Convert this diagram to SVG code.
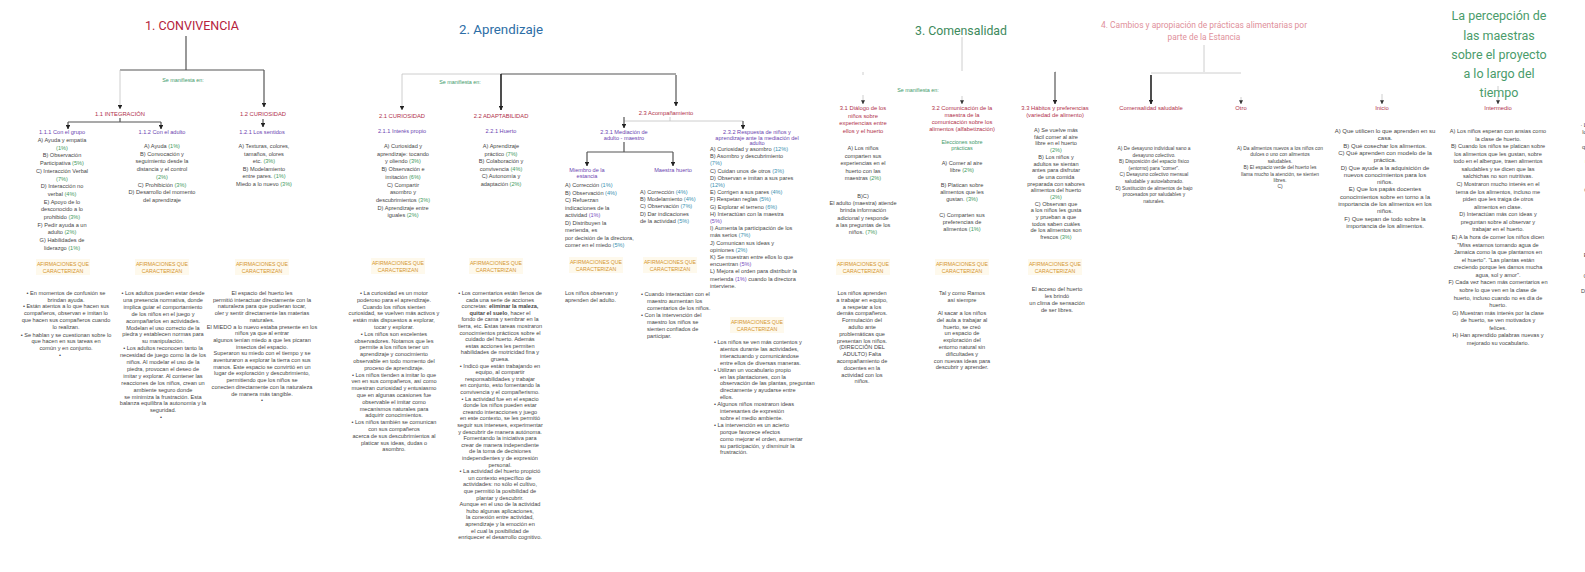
<svg xmlns="http://www.w3.org/2000/svg" width="1585" height="572" viewBox="0 0 1585 572">
<defs>
<marker id="ah" viewBox="0 0 6 6" refX="5.5" refY="3" markerWidth="4.5" markerHeight="4.5" markerUnits="userSpaceOnUse" orient="auto"><path d="M0,0 L6,3 L0,6 z" fill="#222"/></marker>
<marker id="ahl" viewBox="0 0 6 6" refX="5.5" refY="3" markerWidth="4" markerHeight="4" markerUnits="userSpaceOnUse" orient="auto"><path d="M0,0 L6,3 L0,6 z" fill="#333"/></marker>
</defs>
<style>
text{font-family:"Liberation Sans",Arial,sans-serif}
.ti{font-family:Roboto,"Liberation Sans",Arial,sans-serif;text-anchor:middle}
.t{font-size:5.6px;fill:#464646}
.s{font-size:4.9px}
.m{font-size:6px}
.c{text-anchor:middle}
.pc{fill:#3f9a5e}
.pb{fill:#3a8fb0}
.pp{fill:#7a4fc0}
.cat{font-size:5.8px;fill:#b0304a;text-anchor:middle}
.sub{font-size:5.6px;fill:#6b3fb0;text-anchor:middle}
.af{font-size:5.2px;fill:#d4952e;text-anchor:middle}
.afbg{fill:#fef9ec}
.sm{font-size:5.4px;fill:#3f9a6a;text-anchor:middle}
.ln{fill:none;stroke:#555;stroke-width:1.2}
.lt{fill:none;stroke:#c2c2c2;stroke-width:0.8}
.lk{fill:none;stroke:#222;stroke-width:1.6}
</style>
<rect width="1585" height="572" fill="#ffffff"/>

<!-- connectors -->
<g id="connectors">
  <!-- 1. Convivencia -->
  <path class="ln" d="M186,36 V70 M120,70 H264"/>
  <path class="lt" d="M120,70 V109" marker-end="url(#ah)"/>
  <path class="ln" d="M264,70 V107" stroke-width="0.9" marker-end="url(#ah)"/>
  <path class="ln" d="M120,118 V122 M68,122 H161"/>
  <path class="ln" d="M68,122 V129" marker-end="url(#ah)"/>
  <path class="ln" d="M161,122 V129" marker-end="url(#ah)"/>
  <path class="ln" d="M263,119 V127" stroke-width="0.9" marker-end="url(#ah)"/>
  <!-- 2. Aprendizaje -->
  <path class="lt" d="M402,74 H501"/>
  <path class="ln" d="M501,74 H676" stroke-width="1"/>
  <path class="lt" d="M402,74 V110" marker-end="url(#ah)"/>
  <path class="lk" d="M501,74 V110" marker-end="url(#ah)"/>
  <path class="ln" d="M676,75 V106" stroke-width="0.9" marker-end="url(#ah)"/>
  <path class="lt" d="M670,117 V121 M624,121 H743"/>
  <path class="ln" d="M624,117 V128" stroke-width="0.9" marker-end="url(#ah)"/>
  <path class="ln" d="M743,121 V129" stroke-width="0.9" marker-end="url(#ah)"/>
  <path class="ln" d="M624,142 V152 M587,152 H673" stroke-width="1"/>
  <path class="ln" d="M587,152 V166" marker-end="url(#ah)"/>
  <path class="ln" d="M673,152 V166" marker-end="url(#ah)"/>
  <!-- 3. Comensalidad -->
  <path class="lt" d="M962,37 V71"/>
  <path class="lt" d="M863,72 V75 M1055,72 H1056" stroke="#e2e2e2"/>
  <path class="lt" d="M863,95 V104" marker-end="url(#ahl)"/>
  <path class="lt" d="M962,96 V104" marker-end="url(#ahl)"/>
  <path class="ln" d="M1055,72 V104" stroke="#999" stroke-width="0.9" marker-end="url(#ah)"/>
  <!-- 4. Cambios -->
  <path class="lt" d="M1204,45 V72"/>
  <path class="lt" d="M1151,73 H1241" stroke="#ececec"/>
  <path class="lk" d="M1151,75 V104" marker-end="url(#ah)"/>
  <path class="lt" d="M1241,97 V104" marker-end="url(#ahl)"/>
  <!-- Percepción -->
  <path class="lt" d="M1498,86 V91"/>
  <path class="lt" d="M1382,94 V104" marker-end="url(#ahl)"/>
  <path class="lt" d="M1498,96 V104" marker-end="url(#ahl)"/>
</g>

<!-- 1. CONVIVENCIA -->
<g id="convivencia">
  <text class="ti" x="192" y="30" font-size="13.5" fill="#b5223c" textLength="94" lengthAdjust="spacingAndGlyphs">1. CONVIVENCIA</text>
  <text class="sm" x="183" y="82">Se manifiesta en:</text>
  <text class="cat" x="120" y="116">1.1 INTEGRACIÓN</text>
  <text class="cat" x="263" y="116">1.2 CURIOSIDAD</text>
</g>

<g id="n111">
  <text class="sub" x="62" y="134">1.1.1 Con el grupo</text>
  <text class="t c"><tspan x="62" y="142">A) Ayuda y empatía</tspan><tspan x="62" dy="7.7" class="pc">(1%)</tspan><tspan x="62" dy="7.7">B) Observación</tspan><tspan x="62" dy="7.7">Participativa <tspan class="pc">(5%)</tspan></tspan><tspan x="62" dy="7.7">C) Interacción Verbal</tspan><tspan x="62" dy="7.7" class="pc">(7%)</tspan><tspan x="62" dy="7.7">D) Interacción no</tspan><tspan x="62" dy="7.7">verbal <tspan class="pc">(4%)</tspan></tspan><tspan x="62" dy="7.7">E) Apoyo de lo</tspan><tspan x="62" dy="7.7">desconocido a lo</tspan><tspan x="62" dy="7.7">prohibido <tspan class="pc">(3%)</tspan></tspan><tspan x="62" dy="7.7">F) Pedir ayuda a un</tspan><tspan x="62" dy="7.7">adulto <tspan class="pc">(2%)</tspan></tspan><tspan x="62" dy="7.7">G) Habilidades de</tspan><tspan x="62" dy="7.7">liderazgo <tspan class="pc">(1%)</tspan></tspan></text>
  <rect class="afbg" x="36" y="259" width="54" height="16"/>
  <text class="af"><tspan x="63" y="266">AFIRMACIONES QUE</tspan><tspan x="63" y="273">CARACTERIZAN</tspan></text>
  <text class="t c"><tspan x="66" y="295">• En momentos de confusión se</tspan><tspan x="66" dy="6.7">brindan ayuda.</tspan><tspan x="66" dy="6.7">• Están atentos a lo que hacen sus</tspan><tspan x="66" dy="6.7">compañeros, observan e imitan lo</tspan><tspan x="66" dy="6.7">que hacen sus compañeros cuando</tspan><tspan x="66" dy="6.7">lo realizan.</tspan><tspan x="66" dy="8">• Se hablan y se cuestionan sobre lo</tspan><tspan x="66" dy="6.7">que hacen en sus tareas en</tspan><tspan x="66" dy="6.7">común y en conjunto.</tspan><tspan x="60" dy="6.9">•</tspan></text>
</g>

<g id="n112">
  <text class="sub" x="162" y="134">1.1.2 Con el adulto</text>
  <text class="t c"><tspan x="162" y="148">A) Ayuda <tspan class="pc">(1%)</tspan></tspan><tspan x="162" dy="7.7">B) Convocación y</tspan><tspan x="162" dy="7.7">seguimiento desde la</tspan><tspan x="162" dy="7.7">distancia y el control</tspan><tspan x="162" dy="7.7" class="pc">(2%)</tspan><tspan x="162" dy="7.7">C) Prohibición <tspan class="pc">(3%)</tspan></tspan><tspan x="162" dy="7.7">D) Desarrollo del momento</tspan><tspan x="162" dy="7.7">del aprendizaje</tspan></text>
  <rect class="afbg" x="135" y="259" width="54" height="16"/>
  <text class="af"><tspan x="162" y="266">AFIRMACIONES QUE</tspan><tspan x="162" y="273">CARACTERIZAN</tspan></text>
  <text class="t c"><tspan x="163" y="295">• Los adultos pueden estar desde</tspan><tspan x="163" dy="6.9">una presencia normativa, donde</tspan><tspan x="163" dy="6.9">implica guiar el comportamiento</tspan><tspan x="163" dy="6.9">de los niños en el juego y</tspan><tspan x="163" dy="6.9">acompañarlos en actividades.</tspan><tspan x="163" dy="6.9">Modelan el uso correcto de la</tspan><tspan x="163" dy="6.9">piedra y establecen normas para</tspan><tspan x="163" dy="6.9">su manipulación.</tspan><tspan x="163" dy="6.9">• Los adultos reconocen tanto la</tspan><tspan x="163" dy="6.9">necesidad de juego como la de los</tspan><tspan x="163" dy="6.9">niños. Al modelar el uso de la</tspan><tspan x="163" dy="6.9">piedra, provocan el deseo de</tspan><tspan x="163" dy="6.9">imitar y explorar. Al contener las</tspan><tspan x="163" dy="6.9">reacciones de los niños, crean un</tspan><tspan x="163" dy="6.9">ambiente seguro donde</tspan><tspan x="163" dy="6.9">se minimiza la frustración. Esta</tspan><tspan x="163" dy="6.9">balanza equilibra la autonomía y la</tspan><tspan x="163" dy="6.9">seguridad.</tspan><tspan x="161" dy="6.9">•</tspan></text>
</g>

<g id="n121">
  <text class="sub" x="262" y="134">1.2.1 Los sentidos</text>
  <text class="t c"><tspan x="264" y="148">A) Texturas, colores,</tspan><tspan x="264" dy="7.6">tamaños, olores</tspan><tspan x="264" dy="7.6">etc. <tspan class="pc">(3%)</tspan></tspan><tspan x="264" dy="7.6">B) Modelamiento</tspan><tspan x="264" dy="7.6">entre pares. <tspan class="pc">(1%)</tspan></tspan><tspan x="264" dy="7.6">Miedo a lo nuevo <tspan class="pc">(3%)</tspan></tspan></text>
  <rect class="afbg" x="235" y="259" width="54" height="16"/>
  <text class="af"><tspan x="262" y="266">AFIRMACIONES QUE</tspan><tspan x="262" y="273">CARACTERIZAN</tspan></text>
  <text class="t c"><tspan x="262" y="295">El espacio del huerto les</tspan><tspan x="262" dy="6.7">permitió interactuar directamente con la</tspan><tspan x="262" dy="6.7">naturaleza para que pudieran tocar,</tspan><tspan x="262" dy="6.7">oler y sentir directamente las materias</tspan><tspan x="262" dy="6.7">naturales.</tspan><tspan x="262" dy="6.7">El MIEDO a lo nuevo estaba presente en los</tspan><tspan x="262" dy="6.7">niños ya que al entrar</tspan><tspan x="262" dy="6.7">algunos tenían miedo a que les picaran</tspan><tspan x="262" dy="6.7">insectos del espacio.</tspan><tspan x="262" dy="6.7">Superaron su miedo con el tiempo y se</tspan><tspan x="262" dy="6.7">aventuraron a explorar la tierra con sus</tspan><tspan x="262" dy="6.7">manos. Este espacio se convirtió en un</tspan><tspan x="262" dy="6.7">lugar de exploración y descubrimiento,</tspan><tspan x="262" dy="6.7">permitiendo que los niños se</tspan><tspan x="262" dy="6.7">conecten directamente con la naturaleza</tspan><tspan x="262" dy="6.7">de manera más tangible.</tspan><tspan x="262" dy="6.7">•</tspan></text>
</g>

<!-- 2. APRENDIZAJE -->
<g id="aprendizaje">
  <text class="ti" x="501" y="34" font-size="13.5" fill="#2d6ea6" textLength="84" lengthAdjust="spacingAndGlyphs">2. Aprendizaje</text>
  <text class="sm" x="460" y="84">Se manifiesta en:</text>
</g>

<g id="n21">
  <text class="cat" x="402" y="118">2.1 CURIOSIDAD</text>
  <text class="sub" x="402" y="133">2.1.1 Interés propio</text>
  <text class="t c"><tspan x="403" y="148">A) Curiosidad y</tspan><tspan x="403" dy="7.7">aprendizaje: tocando</tspan><tspan x="403" dy="7.7">y oliendo <tspan class="pc">(3%)</tspan></tspan><tspan x="403" dy="7.7">B) Observación e</tspan><tspan x="403" dy="7.7">imitación <tspan class="pc">(6%)</tspan></tspan><tspan x="403" dy="7.7">C) Compartir</tspan><tspan x="403" dy="7.7">asombro y</tspan><tspan x="403" dy="7.7">descubrimientos <tspan class="pc">(3%)</tspan></tspan><tspan x="403" dy="7.7">D) Aprendizaje entre</tspan><tspan x="403" dy="7.7">iguales <tspan class="pc">(2%)</tspan></tspan></text>
  <rect class="afbg" x="371" y="258" width="54" height="16"/>
  <text class="af"><tspan x="398" y="265">AFIRMACIONES QUE</tspan><tspan x="398" y="272">CARACTERIZAN</tspan></text>
  <text class="t c"><tspan x="394" y="295">• La curiosidad es un motor</tspan><tspan x="394" dy="6.8">poderoso para el aprendizaje.</tspan><tspan x="394" dy="6.8">Cuando los niños sienten</tspan><tspan x="394" dy="6.8">curiosidad, se vuelven más activos y</tspan><tspan x="394" dy="6.8">están más dispuestos a explorar,</tspan><tspan x="394" dy="6.8">tocar y explorar.</tspan><tspan x="394" dy="6.8">• Los niños son excelentes</tspan><tspan x="394" dy="6.8">observadores. Notamos que les</tspan><tspan x="394" dy="6.8">permite a los niños tener un</tspan><tspan x="394" dy="6.8">aprendizaje y conocimiento</tspan><tspan x="394" dy="6.8">observable en todo momento del</tspan><tspan x="394" dy="6.8">proceso de aprendizaje.</tspan><tspan x="394" dy="6.8">• Los niños tienden a imitar lo que</tspan><tspan x="394" dy="6.8">ven en sus compañeros, así como</tspan><tspan x="394" dy="6.8">muestran curiosidad y entusiasmo</tspan><tspan x="394" dy="6.8">que en algunas ocasiones fue</tspan><tspan x="394" dy="6.8">observable el imitar como</tspan><tspan x="394" dy="6.8">mecanismos naturales para</tspan><tspan x="394" dy="6.8">adquirir conocimientos.</tspan><tspan x="394" dy="6.8">• Los niños también se comunican</tspan><tspan x="394" dy="6.8">con sus compañeros</tspan><tspan x="394" dy="6.8">acerca de sus descubrimientos al</tspan><tspan x="394" dy="6.8">platicar sus ideas, dudas o</tspan><tspan x="394" dy="6.8">asombro.</tspan></text>
</g>

<g id="n22">
  <text class="cat" x="501" y="118">2.2 ADAPTABILIDAD</text>
  <text class="sub" x="501" y="133">2.2.1 Huerto</text>
  <text class="t c"><tspan x="501" y="148">A) Aprendizaje</tspan><tspan x="501" dy="7.6">práctico <tspan class="pc">(7%)</tspan></tspan><tspan x="501" dy="7.6">B) Colaboración y</tspan><tspan x="501" dy="7.6">convivencia <tspan class="pc">(4%)</tspan></tspan><tspan x="501" dy="7.6">C) Autonomía y</tspan><tspan x="501" dy="7.6">adaptación <tspan class="pc">(2%)</tspan></tspan></text>
  <rect class="afbg" x="469" y="258" width="54" height="16"/>
  <text class="af"><tspan x="496" y="265">AFIRMACIONES QUE</tspan><tspan x="496" y="272">CARACTERIZAN</tspan></text>
  <text class="t c"><tspan x="500" y="295">• Los comentarios están llenos de</tspan><tspan x="500" dy="6.6">cada una serie de acciones</tspan><tspan x="500" dy="6.6">concretas: <tspan font-weight="bold">eliminar la maleza,</tspan></tspan><tspan x="500" dy="6.6"><tspan font-weight="bold">quitar el suelo</tspan>, hacer el</tspan><tspan x="500" dy="6.6">fondo de cama y sembrar en la</tspan><tspan x="500" dy="6.6">tierra, etc. Estas tareas mostraron</tspan><tspan x="500" dy="6.6">conocimientos prácticos sobre el</tspan><tspan x="500" dy="6.6">cuidado del huerto. Además</tspan><tspan x="500" dy="6.6">estas acciones les permiten</tspan><tspan x="500" dy="6.6">habilidades de motricidad fina y</tspan><tspan x="500" dy="6.6">gruesa.</tspan><tspan x="500" dy="6.6">• Indicó que están trabajando en</tspan><tspan x="500" dy="6.6">equipo, al compartir</tspan><tspan x="500" dy="6.6">responsabilidades y trabajar</tspan><tspan x="500" dy="6.6">en conjunto, esto fomentando la</tspan><tspan x="500" dy="6.6">convivencia y el compañerismo.</tspan><tspan x="500" dy="6.6">• La actividad fue en el espacio</tspan><tspan x="500" dy="6.6">donde los niños pueden estar</tspan><tspan x="500" dy="6.6">creando interacciones y juego</tspan><tspan x="500" dy="6.6">en este contexto, se les permitió</tspan><tspan x="500" dy="6.6">seguir sus intereses, experimentar</tspan><tspan x="500" dy="6.6">y descubrir de manera autónoma.</tspan><tspan x="500" dy="6.6">Fomentando la iniciativa para</tspan><tspan x="500" dy="6.6">crear de manera independiente</tspan><tspan x="500" dy="6.6">de la toma de decisiones</tspan><tspan x="500" dy="6.6">independientes y de expresión</tspan><tspan x="500" dy="6.6">personal.</tspan><tspan x="500" dy="6.6">• La actividad del huerto propició</tspan><tspan x="500" dy="6.6">un contexto específico de</tspan><tspan x="500" dy="6.6">actividades: no sólo el cultivo,</tspan><tspan x="500" dy="6.6">que permitió la posibilidad de</tspan><tspan x="500" dy="6.6">plantar y descubrir.</tspan><tspan x="500" dy="6.6">Aunque en el uso de la actividad</tspan><tspan x="500" dy="6.6">hubo algunas aplicaciones,</tspan><tspan x="500" dy="6.6">la conexión entre actividad,</tspan><tspan x="500" dy="6.6">aprendizaje y la emoción en</tspan><tspan x="500" dy="6.6">el cual la posibilidad de</tspan><tspan x="500" dy="6.6">enriquecer el desarrollo cognitivo.</tspan></text>
</g>

<g id="n23">
  <text class="cat" x="666" y="115">2.3 Acompañamiento</text>
</g>

<g id="n231">
  <text class="sub"><tspan x="624" y="134">2.3.1 Mediación de</tspan><tspan x="624" y="140">adulto - maestro</tspan></text>
</g>

<g id="n231a">
  <text class="sub"><tspan x="587" y="172">Miembro de la</tspan><tspan x="587" y="178">estancia</tspan></text>
  <text class="t"><tspan x="565" y="187">A) Corrección <tspan class="pb">(1%)</tspan></tspan><tspan x="565" dy="7.5">B) Observación <tspan class="pb">(4%)</tspan></tspan><tspan x="565" dy="7.5">C) Refuerzan</tspan><tspan x="565" dy="7.5">indicaciones de la</tspan><tspan x="565" dy="7.5">actividad <tspan class="pp">(1%)</tspan></tspan><tspan x="565" dy="7.5">D) Distribuyen la</tspan><tspan x="565" dy="7.5">merienda, es</tspan><tspan x="565" dy="7.5">por decisión de la directora,</tspan><tspan x="565" dy="7.5">comer en el miedo <tspan class="pb">(5%)</tspan></tspan></text>
  <rect class="afbg" x="569" y="257" width="54" height="16"/>
  <text class="af"><tspan x="596" y="264">AFIRMACIONES QUE</tspan><tspan x="596" y="271">CARACTERIZAN</tspan></text>
  <text class="t"><tspan x="565" y="295">Los niños observan y</tspan><tspan x="565" dy="6.8">aprenden del adulto.</tspan></text>
</g>

<g id="n231b">
  <text class="sub" x="673" y="172">Maestra huerto</text>
  <text class="t"><tspan x="640" y="194">A) Corrección <tspan class="pb">(4%)</tspan></tspan><tspan x="640" dy="7.2">B) Modelamiento <tspan class="pb">(4%)</tspan></tspan><tspan x="640" dy="7.2">C) Observación <tspan class="pb">(7%)</tspan></tspan><tspan x="640" dy="7.2">D) Dar indicaciones</tspan><tspan x="640" dy="7.2">de la actividad <tspan class="pb">(5%)</tspan></tspan></text>
  <rect class="afbg" x="643" y="257" width="54" height="16"/>
  <text class="af"><tspan x="670" y="264">AFIRMACIONES QUE</tspan><tspan x="670" y="271">CARACTERIZAN</tspan></text>
  <text class="t"><tspan x="641" y="296">•  Cuando interactúan con el</tspan><tspan x="647" dy="7">maestro aumentan los</tspan><tspan x="647" dy="7">comentarios de los niños.</tspan><tspan x="641" dy="7">•  Con la intervención del</tspan><tspan x="647" dy="7">maestro los niños se</tspan><tspan x="647" dy="7">sienten confiados de</tspan><tspan x="647" dy="7">participar.</tspan></text>
</g>

<g id="n232">
  <text class="sub"><tspan x="757" y="134">2.3.2 Respuesta de niños y</tspan><tspan x="757" y="139.5">aprendizaje ante la mediación del</tspan><tspan x="757" y="145">adulto</tspan></text>
  <text class="t"><tspan x="710" y="151">A) Curiosidad y asombro <tspan class="pb">(12%)</tspan></tspan><tspan x="710" dy="7.2">B) Asombro y descubrimiento</tspan><tspan x="710" dy="7.2" class="pb">(7%)</tspan><tspan x="710" dy="7.2">C) Cuidan unos de otros <tspan class="pb">(3%)</tspan></tspan><tspan x="710" dy="7.2">D) Observan e imitan a sus pares</tspan><tspan x="710" dy="7.2" class="pb">(12%)</tspan><tspan x="710" dy="7.2">E) Corrigen a sus pares <tspan class="pb">(4%)</tspan></tspan><tspan x="710" dy="7.2">F) Respetan reglas <tspan class="pb">(5%)</tspan></tspan><tspan x="710" dy="7.2">G) Explorar el terreno <tspan class="pb">(6%)</tspan></tspan><tspan x="710" dy="7.2">H) Interactúan con la maestra</tspan><tspan x="710" dy="7.2" class="pp">(5%)</tspan><tspan x="710" dy="7.2">I) Aumenta la participación de los</tspan><tspan x="710" dy="7.2">más serios <tspan class="pb">(7%)</tspan></tspan><tspan x="710" dy="7.2">J) Comunican sus ideas y</tspan><tspan x="710" dy="7.2">opiniones <tspan class="pb">(2%)</tspan></tspan><tspan x="710" dy="7.2">K) Se muestran entre ellos lo que</tspan><tspan x="710" dy="7.2">encuentran <tspan class="pp">(5%)</tspan></tspan><tspan x="710" dy="7.2">L) Mejora el orden para distribuir la</tspan><tspan x="710" dy="7.2">merienda <tspan class="pp">(1%)</tspan> cuando la directora</tspan><tspan x="710" dy="7.2">interviene.</tspan></text>
  <rect class="afbg" x="730" y="317" width="54" height="16"/>
  <text class="af"><tspan x="757" y="324">AFIRMACIONES QUE</tspan><tspan x="757" y="331">CARACTERIZAN</tspan></text>
  <text class="t"><tspan x="714" y="344">•  Los niños se ven más contentos y</tspan><tspan x="720" dy="6.9">atentos durante las actividades,</tspan><tspan x="720" dy="6.9">interactuando y comunicándose</tspan><tspan x="720" dy="6.9">entre ellos de diversas maneras.</tspan><tspan x="714" dy="6.9">•  Utilizan un vocabulario propio</tspan><tspan x="720" dy="6.9">en las plantaciones, con la</tspan><tspan x="720" dy="6.9">observación de las plantas, preguntan</tspan><tspan x="720" dy="6.9">directamente y ayudarse entre</tspan><tspan x="720" dy="6.9">ellos.</tspan><tspan x="714" dy="6.9">•  Algunos niños mostraron ideas</tspan><tspan x="720" dy="6.9">interesantes de expresión</tspan><tspan x="720" dy="6.9">sobre el medio ambiente.</tspan><tspan x="714" dy="6.9">•  La intervención es un acierto</tspan><tspan x="720" dy="6.9">porque favorece efectos</tspan><tspan x="720" dy="6.9">como mejorar el orden, aumentar</tspan><tspan x="720" dy="6.9">su participación, y disminuir la</tspan><tspan x="720" dy="6.9">frustración.</tspan></text>
</g>

<!-- 3. COMENSALIDAD -->
<g id="comensalidad">
  <text class="ti" x="961" y="35" font-size="13.5" fill="#3e8a5c" textLength="92" lengthAdjust="spacingAndGlyphs">3. Comensalidad</text>
  <text class="sm" x="918" y="92">Se manifiesta en:</text>
</g>

<g id="n31">
  <text class="cat"><tspan x="863" y="110">3.1 Diálogo de los</tspan><tspan x="863" y="117.6">niños sobre</tspan><tspan x="863" y="125.2">experiencias entre</tspan><tspan x="863" y="132.8">ellos y el huerto</tspan></text>
  <text class="t c"><tspan x="863" y="150">A) Los niños</tspan><tspan x="863" dy="7.5">comparten sus</tspan><tspan x="863" dy="7.5">experiencias en el</tspan><tspan x="863" dy="7.5">huerto con las</tspan><tspan x="863" dy="7.5">maestras <tspan class="pc">(2%)</tspan></tspan><tspan x="863" y="198">B)C)</tspan><tspan x="863" dy="7.2">El adulto (maestra) atiende</tspan><tspan x="863" dy="7.2">brinda información</tspan><tspan x="863" dy="7.2">adicional y responde</tspan><tspan x="863" dy="7.2">a las preguntas de los</tspan><tspan x="863" dy="7.2">niños. <tspan class="pc">(7%)</tspan></tspan></text>
  <rect class="afbg" x="836" y="259" width="54" height="16"/>
  <text class="af"><tspan x="863" y="266">AFIRMACIONES QUE</tspan><tspan x="863" y="273">CARACTERIZAN</tspan></text>
  <text class="t c"><tspan x="862" y="295">Los niños aprenden</tspan><tspan x="862" dy="6.8">a trabajar en equipo,</tspan><tspan x="862" dy="6.8">a respetar a los</tspan><tspan x="862" dy="6.8">demás compañeros.</tspan><tspan x="862" dy="6.8">Formulación del</tspan><tspan x="862" dy="6.8">adulto ante</tspan><tspan x="862" dy="6.8">problemáticas que</tspan><tspan x="862" dy="6.8">presentan los niños.</tspan><tspan x="862" dy="6.8">(DIRECCIÓN DEL</tspan><tspan x="862" dy="6.8">ADULTO) Falta</tspan><tspan x="862" dy="6.8">acompañamiento de</tspan><tspan x="862" dy="6.8">docentes en la</tspan><tspan x="862" dy="6.8">actividad con los</tspan><tspan x="862" dy="6.8">niños.</tspan></text>
</g>

<g id="n32">
  <text class="cat"><tspan x="962" y="110">3.2 Comunicación de la</tspan><tspan x="962" y="117">maestra de la</tspan><tspan x="962" y="124">comunicación sobre los</tspan><tspan x="962" y="131">alimentos (alfabetización)</tspan></text>
  <text class="sm" font-size="5"><tspan x="962" y="144">Elecciones sobre</tspan><tspan x="962" y="149.5">prácticas</tspan></text>
  <text class="t c"><tspan x="962" y="165">A) Comer al aire</tspan><tspan x="962" dy="7">libre <tspan class="pc">(2%)</tspan></tspan><tspan x="962" y="187">B) Platican sobre</tspan><tspan x="962" dy="7">alimentos que les</tspan><tspan x="962" dy="7">gustan. <tspan class="pc">(3%)</tspan></tspan><tspan x="962" y="217">C) Comparten sus</tspan><tspan x="962" dy="7">preferencias de</tspan><tspan x="962" dy="7">alimentos <tspan class="pc">(1%)</tspan></tspan></text>
  <rect class="afbg" x="935" y="259" width="54" height="16"/>
  <text class="af"><tspan x="962" y="266">AFIRMACIONES QUE</tspan><tspan x="962" y="273">CARACTERIZAN</tspan></text>
  <text class="t c"><tspan x="962" y="295">Tal y como Ramos</tspan><tspan x="962" dy="6.8">así siempre</tspan><tspan x="962" y="315">Al sacar a los niños</tspan><tspan x="962" dy="6.8">del aula a trabajar al</tspan><tspan x="962" dy="6.8">huerto, se creó</tspan><tspan x="962" dy="6.8">un espacio de</tspan><tspan x="962" dy="6.8">exploración del</tspan><tspan x="962" dy="6.8">entorno natural sin</tspan><tspan x="962" dy="6.8">dificultades y</tspan><tspan x="962" dy="6.8">con nuevas ideas para</tspan><tspan x="962" dy="6.8">descubrir y aprender.</tspan></text>
</g>

<g id="n33">
  <text class="cat"><tspan x="1055" y="110">3.3 Hábitos y preferencias</tspan><tspan x="1055" y="117">(variedad de alimento)</tspan></text>
  <text class="t c"><tspan x="1056" y="132">A) Se vuelve más</tspan><tspan x="1056" dy="6.7">fácil comer al aire</tspan><tspan x="1056" dy="6.7">libre en el huerto</tspan><tspan x="1056" dy="6.7" class="pc">(2%)</tspan><tspan x="1056" dy="6.7">B) Los niños y</tspan><tspan x="1056" dy="6.7">adultos se sientan</tspan><tspan x="1056" dy="6.7">antes para disfrutar</tspan><tspan x="1056" dy="6.7">de una comida</tspan><tspan x="1056" dy="6.7">preparada con sabores</tspan><tspan x="1056" dy="6.7">alimentos del huerto</tspan><tspan x="1056" dy="6.7" class="pc">(2%)</tspan><tspan x="1056" dy="6.7">C) Observan que</tspan><tspan x="1056" dy="6.7">a los niños les gusta</tspan><tspan x="1056" dy="6.7">y prueban a que</tspan><tspan x="1056" dy="6.7">todos saben cuáles</tspan><tspan x="1056" dy="6.7">de los alimentos son</tspan><tspan x="1056" dy="6.7">frescos <tspan class="pc">(3%)</tspan></tspan></text>
  <rect class="afbg" x="1028" y="259" width="54" height="16"/>
  <text class="af"><tspan x="1055" y="266">AFIRMACIONES QUE</tspan><tspan x="1055" y="273">CARACTERIZAN</tspan></text>
  <text class="t c"><tspan x="1057" y="291">El acceso del huerto</tspan><tspan x="1057" dy="7">les brindó</tspan><tspan x="1057" dy="7">un clima de sensación</tspan><tspan x="1057" dy="7">de ser libres.</tspan></text>
</g>

<!-- 4. CAMBIOS -->
<g id="cambios">
  <text class="ti" fill="#e0909b" font-size="8.3"><tspan x="1204" y="28" textLength="206" lengthAdjust="spacingAndGlyphs">4. Cambios y apropiación de prácticas alimentarias por</tspan><tspan x="1204" y="40">parte de la Estancia</tspan></text>
</g>

<g id="n41">
  <text class="cat" x="1151" y="110">Comensalidad saludable</text>
  <text class="t s c"><tspan x="1154" y="150">A) De desayuno individual sano a</tspan><tspan x="1154" dy="6.6">desayuno colectivo.</tspan><tspan x="1154" dy="6.6">B) Disposición del espacio físico</tspan><tspan x="1154" dy="6.6">(entorno) para "comer".</tspan><tspan x="1154" dy="6.6">C) Desayuno colectivo mensual</tspan><tspan x="1154" dy="6.6">saludable y autoelaborado.</tspan><tspan x="1154" dy="6.6">D) Sustitución de alimentos de bajo</tspan><tspan x="1154" dy="6.6">procesados por saludables y</tspan><tspan x="1154" dy="6.6">naturales.</tspan></text>
</g>

<g id="n42">
  <text class="cat" x="1241" y="110">Otro</text>
  <text class="t s c"><tspan x="1280" y="150">A) Da alimentos nuevos a los niños con</tspan><tspan x="1280" dy="6.4">dulces o uno con alimentos</tspan><tspan x="1280" dy="6.4">saludables.</tspan><tspan x="1280" dy="6.4">B) El espacio verde del huerto les</tspan><tspan x="1280" dy="6.4">llama mucho la atención, se sienten</tspan><tspan x="1280" dy="6.4">libres.</tspan><tspan x="1280" dy="6.4">C)</tspan></text>
</g>

<!-- PERCEPCIÓN DE LAS MAESTRAS -->
<g id="percepcion">
  <text class="ti" fill="#4a9c6b" font-size="12.5"><tspan x="1499" y="20">La percepción de</tspan><tspan x="1499" y="39.5">las maestras</tspan><tspan x="1499" y="58.5">sobre el proyecto</tspan><tspan x="1499" y="78">a lo largo del</tspan><tspan x="1499" y="97">tiempo</tspan></text>
</g>

<g id="n51">
  <text class="cat" x="1382" y="110">Inicio</text>
  <text class="t m c"><tspan x="1385" y="133">A) Que utilicen lo que aprenden en su</tspan><tspan x="1385" dy="7.3">casa.</tspan><tspan x="1385" dy="7.3">B) Qué cosechar los alimentos.</tspan><tspan x="1385" dy="7.3">C) Qué aprenden con modelo de la</tspan><tspan x="1385" dy="7.3">práctica.</tspan><tspan x="1385" dy="7.3">D) Que ayude a la adquisición de</tspan><tspan x="1385" dy="7.3">nuevos conocimientos para los</tspan><tspan x="1385" dy="7.3">niños.</tspan><tspan x="1385" dy="7.3">E) Que los papás docentes</tspan><tspan x="1385" dy="7.3">conocimientos sobre en torno a la</tspan><tspan x="1385" dy="7.3">importancia de los alimentos en los</tspan><tspan x="1385" dy="7.3">niños.</tspan><tspan x="1385" dy="7.3">F) Que sepan de todo sobre la</tspan><tspan x="1385" dy="7.3">importancia de los alimentos.</tspan></text>
</g>

<g id="n52">
  <text class="cat" x="1498" y="110">Intermedio</text>
  <text class="t c"><tspan x="1498" y="133">A) Los niños esperan con ansias como</tspan><tspan x="1498" dy="7.57">la clase de huerto.</tspan><tspan x="1498" dy="7.57">B) Cuando los niños se platican sobre</tspan><tspan x="1498" dy="7.57">los alimentos que les gustan, sobre</tspan><tspan x="1498" dy="7.57">todo en el albergue, traen alimentos</tspan><tspan x="1498" dy="7.57">saludables y se dicen que las</tspan><tspan x="1498" dy="7.57">salchichas no son nutritivas.</tspan><tspan x="1498" dy="7.57">C) Mostraron mucho interés en el</tspan><tspan x="1498" dy="7.57">tema de los alimentos, incluso me</tspan><tspan x="1498" dy="7.57">piden que les traiga de otros</tspan><tspan x="1498" dy="7.57">alimentos en clase.</tspan><tspan x="1498" dy="7.57">D) Interactúan más con ideas y</tspan><tspan x="1498" dy="7.57">preguntan sobre al observar y</tspan><tspan x="1498" dy="7.57">trabajar en el huerto.</tspan><tspan x="1498" dy="7.57">E) A la hora de comer los niños dicen</tspan><tspan x="1498" dy="7.57">"Miss estamos tomando agua de</tspan><tspan x="1498" dy="7.57">Jamaica como la que plantamos en</tspan><tspan x="1498" dy="7.57">el huerto". "Las plantas están</tspan><tspan x="1498" dy="7.57">creciendo porque les damos mucha</tspan><tspan x="1498" dy="7.57">agua, sol y amor".</tspan><tspan x="1498" dy="7.57">F) Cada vez hacen más comentarios en</tspan><tspan x="1498" dy="7.57">sobre lo que ven en la clase de</tspan><tspan x="1498" dy="7.57">huerto, incluso cuando no es día de</tspan><tspan x="1498" dy="7.57">huerto.</tspan><tspan x="1498" dy="7.57">G) Muestran más interés por la clase</tspan><tspan x="1498" dy="7.57">de huerto, se ven motivados y</tspan><tspan x="1498" dy="7.57">felices.</tspan><tspan x="1498" dy="7.57">H) Han aprendido palabras nuevas y</tspan><tspan x="1498" dy="7.57">mejorado su vocabulario.</tspan></text>
</g>

<g id="n53">
  <text class="cat" x="1626" y="110">Final</text>
  <text class="t c"><tspan x="1626" y="127">· Los niños comparten lo aprendido ·</tspan><tspan x="1626" dy="7.2">lo llevan a casa y lo comparten con</tspan><tspan x="1626" dy="7.2">lo que aprendieron en el huerto.</tspan><tspan x="1626" dy="7.2">que ya no traen alimentos chatarra.</tspan><tspan x="1626" dy="7.2">B) Los niños reconocen los</tspan><tspan x="1626" dy="7.2">mejores alimentos para su salud.</tspan><tspan x="1626" dy="7.2">C) Los niños eligen frutas</tspan><tspan x="1626" dy="7.2">y verduras.</tspan><tspan x="1626" dy="7.2">en el desayuno.</tspan><tspan x="1626" dy="7.2">C) Piden más tiempo en el huerto</tspan><tspan x="1626" dy="7.2">y cuidan las plantas.</tspan><tspan x="1626" dy="7.2">con ayuda.</tspan><tspan x="1626" dy="7.2">los ciclos.</tspan><tspan x="1626" dy="7.2">de siembra.</tspan><tspan x="1626" dy="7.2">F) Preguntan por cada planta</tspan><tspan x="1626" dy="7.2">y su nombre.</tspan><tspan x="1626" dy="7.2">G) Proponen nuevas actividades</tspan><tspan x="1626" dy="7.2">en el huerto escolar con</tspan><tspan x="1626" dy="7.2">E) Piden probar nuevos alimentos</tspan><tspan x="1626" dy="7.2">más seguido.</tspan><tspan x="1626" dy="7.2">y alimentos.</tspan><tspan x="1626" dy="7.2">C) A los niños les gusta el cuidado</tspan><tspan x="1626" dy="7.2">del huerto.</tspan><tspan x="1626" dy="7.2">Dan a conocer sus ideas y su sentir.</tspan><tspan x="1626" dy="7.2">de los alimentos.</tspan><tspan x="1626" dy="7.2">A) Los niños participan más.</tspan></text>
</g>
</svg>
